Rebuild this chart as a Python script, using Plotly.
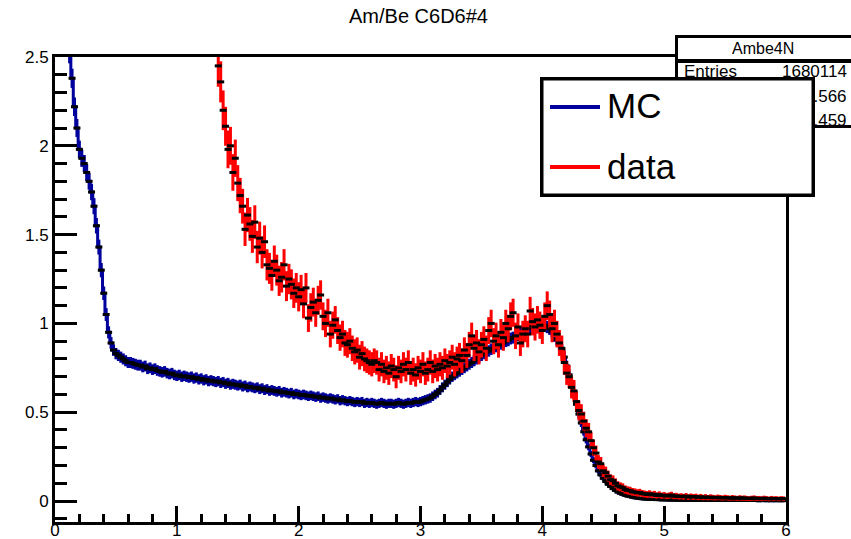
import numpy as np
import plotly.graph_objects as go

# ---------------------------------------------------------------------------
# Histogram contents (bin width 0.02, one value per bin centre)
# ---------------------------------------------------------------------------
BIN_WIDTH = 0.02
MC_FIRST_CENTER = 0.10
DATA_FIRST_CENTER = 1.34

mc_values = [
    2.75, 2.52, 2.38, 2.22, 2.10, 1.98, 1.93, 1.90, 1.85, 1.80,        # 0.10 - 0.28
    1.74, 1.66, 1.55, 1.43, 1.30, 1.17, 1.05, 0.95, 0.89, 0.85,        # 0.30 - 0.48
    0.83, 0.82, 0.81, 0.80, 0.79, 0.78, 0.78, 0.775, 0.77, 0.765,      # 0.50 - 0.68
    0.765, 0.755, 0.76, 0.745, 0.75, 0.74, 0.745, 0.735, 0.73, 0.725,  # 0.70 - 0.88
    0.73, 0.72, 0.715, 0.72, 0.71, 0.705, 0.71, 0.70, 0.705, 0.70,     # 0.90 - 1.08
    0.695, 0.70, 0.69, 0.695, 0.685, 0.69, 0.68, 0.685, 0.675, 0.68,   # 1.10 - 1.28
    0.675, 0.67, 0.675, 0.665, 0.67, 0.66, 0.665, 0.655, 0.66, 0.655,  # 1.30 - 1.48
    0.65, 0.655, 0.645, 0.65, 0.64, 0.645, 0.64, 0.635, 0.64, 0.63,    # 1.50 - 1.68
    0.635, 0.625, 0.63, 0.62, 0.625, 0.62, 0.615, 0.62, 0.61, 0.615,   # 1.70 - 1.88
    0.61, 0.605, 0.61, 0.60, 0.605, 0.60, 0.595, 0.60, 0.595, 0.59,    # 1.90 - 2.08
    0.595, 0.59, 0.585, 0.59, 0.58, 0.585, 0.58, 0.575, 0.58, 0.575,   # 2.10 - 2.28
    0.57, 0.575, 0.565, 0.57, 0.565, 0.56, 0.565, 0.56, 0.555, 0.56,   # 2.30 - 2.48
    0.555, 0.56, 0.55, 0.555, 0.55, 0.555, 0.55, 0.545, 0.55, 0.555,  # 2.50 - 2.68
    0.55, 0.545, 0.55, 0.55, 0.545, 0.55, 0.555, 0.55, 0.545, 0.55,   # 2.70 - 2.88
    0.555, 0.55, 0.555, 0.56, 0.555, 0.56, 0.565, 0.57, 0.575, 0.58,  # 2.90 - 3.08
    0.59, 0.60, 0.61, 0.625, 0.64, 0.655, 0.67, 0.685, 0.70, 0.71,     # 3.10 - 3.28
    0.72, 0.73, 0.74, 0.75, 0.76, 0.77, 0.78, 0.79, 0.80, 0.81,        # 3.30 - 3.48
    0.82, 0.83, 0.84, 0.845, 0.855, 0.86, 0.87, 0.875, 0.885, 0.89,    # 3.50 - 3.68
    0.90, 0.905, 0.915, 0.92, 0.93, 0.935, 0.945, 0.955, 0.965, 0.97,  # 3.70 - 3.88
    0.98, 0.985, 0.99, 0.995, 1.00, 0.995, 0.99, 0.98, 0.97, 0.955,    # 3.90 - 4.08
    0.93, 0.91, 0.88, 0.85, 0.81, 0.76, 0.71, 0.66, 0.60, 0.545,       # 4.10 - 4.28
    0.49, 0.44, 0.39, 0.345, 0.305, 0.265, 0.23, 0.20, 0.17, 0.148,    # 4.30 - 4.48
    0.128, 0.11, 0.095, 0.082, 0.07, 0.06, 0.051, 0.044, 0.038, 0.033,  # 4.50 - 4.68
    0.029, 0.025, 0.022, 0.019, 0.017, 0.015, 0.013, 0.012, 0.011, 0.010,  # 4.70 - 4.88
    0.009, 0.009, 0.008, 0.008, 0.007, 0.007, 0.007, 0.006, 0.006, 0.006,  # 4.90 - 5.08
    0.006, 0.005, 0.006, 0.005, 0.005, 0.005, 0.004, 0.005, 0.005, 0.004,  # 5.10 - 5.28
    0.004, 0.005, 0.004, 0.004, 0.004, 0.003, 0.004, 0.004, 0.003, 0.004,  # 5.30 - 5.48
    0.003, 0.004, 0.004, 0.003, 0.003, 0.003, 0.004, 0.003, 0.003, 0.003,  # 5.50 - 5.68
    0.003, 0.003, 0.003, 0.003, 0.002, 0.003, 0.003, 0.002, 0.003, 0.002,  # 5.70 - 5.88
    0.003, 0.002, 0.003, 0.002, 0.002,                                      # 5.90 - 5.98
]

data_values = [
    2.45, 2.36, 2.20, 2.11, 1.98, 2.00, 1.85, 1.93, 1.79, 1.72,        # 1.34 - 1.52
    1.66, 1.53, 1.61, 1.56, 1.49, 1.57, 1.43, 1.48, 1.40, 1.46,        # 1.54 - 1.72
    1.33, 1.31, 1.27, 1.35, 1.30, 1.24, 1.26, 1.33, 1.21, 1.25,        # 1.74 - 1.92
    1.22, 1.17, 1.20, 1.15, 1.19, 1.11, 1.20, 1.03, 1.09, 1.12,        # 1.94 - 2.12
    1.06, 1.13, 1.16, 1.04, 1.00, 1.06, 0.94, 0.99, 1.02, 0.96,        # 2.14 - 2.32
    0.92, 0.94, 0.89, 0.88, 0.90, 0.86, 0.84, 0.85, 0.81, 0.83,        # 2.34 - 2.52
    0.80, 0.79, 0.78, 0.77, 0.79, 0.78, 0.74, 0.77, 0.73, 0.75,        # 2.54 - 2.72
    0.72, 0.76, 0.74, 0.70, 0.75, 0.73, 0.77, 0.74, 0.78, 0.72,        # 2.74 - 2.92
    0.74, 0.71, 0.75, 0.73, 0.77, 0.72, 0.74, 0.78, 0.73, 0.76,        # 2.94 - 3.12
    0.74, 0.77, 0.75, 0.79, 0.76, 0.78, 0.81, 0.77, 0.80, 0.82,        # 3.14 - 3.32
    0.79, 0.85, 0.82, 0.88, 0.93, 0.86, 0.89, 0.84, 0.88, 0.91,        # 3.34 - 3.52
    0.86, 0.96, 1.00, 0.90, 0.93, 0.88, 0.95, 0.92, 1.00, 0.97,        # 3.54 - 3.72
    1.04, 1.06, 0.93, 0.98, 0.89, 0.94, 0.97, 0.94, 1.07, 1.01,        # 3.74 - 3.92
    0.98, 1.02, 0.99, 0.96, 1.04, 1.10, 1.05, 0.97, 1.00, 0.94,        # 3.94 - 4.12
    0.89, 0.86, 0.78, 0.72, 0.70, 0.64, 0.62, 0.56, 0.51, 0.49,        # 4.14 - 4.32
    0.45, 0.41, 0.39, 0.34, 0.30, 0.27, 0.22, 0.21, 0.17, 0.16,        # 4.34 - 4.52
    0.14, 0.12, 0.115, 0.10, 0.085, 0.08, 0.075, 0.065, 0.06, 0.058,   # 4.54 - 4.72
    0.052, 0.05, 0.046, 0.048, 0.042, 0.04, 0.037, 0.041, 0.035, 0.038,  # 4.74 - 4.92
    0.031, 0.036, 0.030, 0.033, 0.028, 0.031, 0.034, 0.027, 0.029, 0.025,  # 4.94 - 5.12
    0.027, 0.024, 0.028, 0.022, 0.026, 0.023, 0.025, 0.021, 0.024, 0.020,  # 5.14 - 5.32
    0.023, 0.019, 0.022, 0.020, 0.018, 0.021, 0.019, 0.017, 0.020, 0.018,  # 5.34 - 5.52
    0.016, 0.019, 0.017, 0.015, 0.018, 0.016, 0.017, 0.015, 0.014, 0.016,  # 5.54 - 5.72
    0.017, 0.014, 0.015, 0.013, 0.016, 0.014, 0.012, 0.015, 0.013, 0.014,  # 5.74 - 5.92
    0.012, 0.014, 0.013,                                                    # 5.94 - 5.98
]

TITLE = "Am/Be C6D6#4"
STATS_NAME = "Ambe4N"
stats_labels = ["Entries", "Mean", "RMS"]
stats_values = ["1680114", "2.566", "1.459"]
legend_labels = ["MC", "data"]

MC_COLOR = "#00009c"
DATA_COLOR = "#ff0000"
FONT = "Liberation Sans, Arial, Helvetica, sans-serif"

mc_y = np.array(mc_values)
data_y = np.array(data_values)
mc_x = MC_FIRST_CENTER + BIN_WIDTH * np.arange(len(mc_y))
data_x = DATA_FIRST_CENTER + BIN_WIDTH * np.arange(len(data_y))

# statistical uncertainties (Poisson-like, scaled to the normalisation)
mc_err = 0.035 * np.sqrt(mc_y)
data_err = 0.072 * np.sqrt(data_y) + 0.005

# ---------------------------------------------------------------------------
# Canvas geometry (pixels)
# ---------------------------------------------------------------------------
W, H = 851, 539
L, R, T, B = 55, 65, 57, 17
PW, PH = W - L - R, H - T - B


def fx(px):
    return (px - L) / PW


def fy(py):
    return (H - B - py) / PH


fig = go.Figure()

# MC: blue step histogram with error bars, black bin markers
fig.add_trace(go.Scatter(
    x=mc_x, y=mc_y, mode="lines+markers", name="MC",
    line=dict(color=MC_COLOR, width=3, shape="hvh"),
    marker=dict(symbol="line-ew", size=5, color="black",
                line=dict(color="black", width=3)),
    error_y=dict(type="data", array=mc_err, visible=True,
                 color=MC_COLOR, thickness=3, width=0),
    hoverinfo="x+y",
))

# data: red error bars, black bin markers
fig.add_trace(go.Scatter(
    x=data_x, y=data_y, mode="markers", name="data",
    marker=dict(symbol="line-ew", size=5, color="black",
                line=dict(color="black", width=3)),
    error_y=dict(type="data", array=data_err, visible=True,
                 color=DATA_COLOR, thickness=3, width=0),
    hoverinfo="x+y",
))


def box(x0, y0, x1, y1, bg, border=None, bw=0):
    return dict(
        xref="paper", yref="paper", x=fx(x0), y=fy(y0),
        xanchor="left", yanchor="top", showarrow=False,
        text=" ", font=dict(size=1, family=FONT),
        width=x1 - x0 - 2 * bw, height=y1 - y0 - 2 * bw,
        borderpad=0, borderwidth=bw,
        bordercolor=border if border else "rgba(0,0,0,0)",
        bgcolor=bg,
    )


def label(px, py, text, size, anchor="left"):
    return dict(
        xref="paper", yref="paper", x=fx(px), y=fy(py),
        xanchor=anchor, yanchor="middle", showarrow=False,
        text=text, font=dict(size=size, family=FONT, color="black"),
    )


annotations = [label(418, 16, TITLE, 20, "center")]

# statistics box
annotations.append(box(675, 35, 855, 128, "white", "black", 3))
annotations.append(box(675, 59, 855, 63, "black"))
annotations.append(label(763, 48, STATS_NAME, 16, "center"))
for i, (lab, val) in enumerate(zip(stats_labels, stats_values)):
    yrow = 72 + 24 * i
    annotations.append(label(682, yrow, lab, 17, "left"))
    annotations.append(label(849, yrow, val, 17, "right"))

# legend box
annotations.append(box(540, 77, 815, 197, "white", "black", 3.5))
for i, (lab, col) in enumerate(zip(legend_labels, [MC_COLOR, DATA_COLOR])):
    yrow = 107 + 60 * i
    annotations.append(box(550, yrow - 2, 600, yrow + 2, col))
    annotations.append(label(605, yrow - 1, lab, 35, "left"))

axis_common = dict(
    showline=True, linecolor="black", linewidth=3, mirror=True,
    ticks="inside", tickcolor="black", tickwidth=3,
    showgrid=False, zeroline=False, automargin=False,
    tickfont=dict(family=FONT, size=17, color="black"),
)

fig.update_layout(
    width=W, height=H,
    margin=dict(l=L, r=R, t=T, b=B),
    paper_bgcolor="white", plot_bgcolor="white",
    showlegend=False,
    xaxis=dict(range=[0, 6], tick0=0, dtick=1, ticklen=16,
               ticklabelstandoff=-9,
               minor=dict(ticks="inside", dtick=0.2, ticklen=8,
                          tickwidth=3, tickcolor="black"),
               **axis_common),
    yaxis=dict(range=[-0.118, 2.5], tick0=0, dtick=0.5, ticklen=22,
               minor=dict(ticks="inside", dtick=0.1, ticklen=12,
                          tickwidth=3, tickcolor="black"),
               **axis_common),
    annotations=annotations,
)

fig.write_html("out.html")
